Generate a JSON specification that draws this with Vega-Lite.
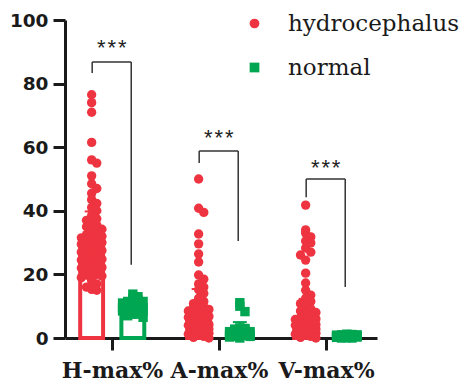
{
  "$schema": "https://vega.github.io/schema/vega-lite/v6.json",
  "width": 312,
  "height": 318,
  "autosize": {"type": "none"},
  "padding": {"left": 65, "top": 20, "right": 89, "bottom": 54},
  "background": "white",
  "config": {
    "view": {"stroke": null},
    "axis": {"grid": false, "title": null}
  },
  "datasets": {
    "summary": [
      {"cat": "H-max%", "group": "hydrocephalus", "mean": 29.8, "sd": 10},
      {"cat": "H-max%", "group": "normal", "mean": 9.3, "sd": 1.8},
      {"cat": "A-max%", "group": "hydrocephalus", "mean": 7.8, "sd": 7.6},
      {"cat": "A-max%", "group": "normal", "mean": 2.5, "sd": 2.5},
      {"cat": "V-max%", "group": "hydrocephalus", "mean": 5.3, "sd": 7},
      {"cat": "V-max%", "group": "normal", "mean": 0.6, "sd": 0.4}
    ],
    "brackets": [
      {"cat": "H-max%", "top": 86.8, "lbot": 83.3, "rbot": 23, "stars": 92.5},
      {"cat": "A-max%", "top": 58.8, "lbot": 55, "rbot": 30.5, "stars": 64.3},
      {"cat": "V-max%", "top": 50, "lbot": 44.3, "rbot": 16, "stars": 54.8}
    ],
    "points": [
      {"cat": "H-max%", "group": "hydrocephalus", "v": 76.5},
      {"cat": "H-max%", "group": "hydrocephalus", "v": 74},
      {"cat": "H-max%", "group": "hydrocephalus", "v": 71},
      {"cat": "H-max%", "group": "hydrocephalus", "v": 61.5},
      {"cat": "H-max%", "group": "hydrocephalus", "v": 56},
      {"cat": "H-max%", "group": "hydrocephalus", "v": 55},
      {"cat": "H-max%", "group": "hydrocephalus", "v": 51},
      {"cat": "H-max%", "group": "hydrocephalus", "v": 48.5},
      {"cat": "H-max%", "group": "hydrocephalus", "v": 47},
      {"cat": "H-max%", "group": "hydrocephalus", "v": 45.5},
      {"cat": "H-max%", "group": "hydrocephalus", "v": 43.5},
      {"cat": "H-max%", "group": "hydrocephalus", "v": 42.3},
      {"cat": "H-max%", "group": "hydrocephalus", "v": 41},
      {"cat": "H-max%", "group": "hydrocephalus", "v": 40},
      {"cat": "H-max%", "group": "hydrocephalus", "v": 38.5},
      {"cat": "H-max%", "group": "hydrocephalus", "v": 37.5},
      {"cat": "H-max%", "group": "hydrocephalus", "v": 37},
      {"cat": "H-max%", "group": "hydrocephalus", "v": 36},
      {"cat": "H-max%", "group": "hydrocephalus", "v": 35.5},
      {"cat": "H-max%", "group": "hydrocephalus", "v": 35},
      {"cat": "H-max%", "group": "hydrocephalus", "v": 34.2},
      {"cat": "H-max%", "group": "hydrocephalus", "v": 33.5},
      {"cat": "H-max%", "group": "hydrocephalus", "v": 33},
      {"cat": "H-max%", "group": "hydrocephalus", "v": 32.5},
      {"cat": "H-max%", "group": "hydrocephalus", "v": 32},
      {"cat": "H-max%", "group": "hydrocephalus", "v": 31.5},
      {"cat": "H-max%", "group": "hydrocephalus", "v": 31},
      {"cat": "H-max%", "group": "hydrocephalus", "v": 30.8},
      {"cat": "H-max%", "group": "hydrocephalus", "v": 30.5},
      {"cat": "H-max%", "group": "hydrocephalus", "v": 30},
      {"cat": "H-max%", "group": "hydrocephalus", "v": 29.5},
      {"cat": "H-max%", "group": "hydrocephalus", "v": 29},
      {"cat": "H-max%", "group": "hydrocephalus", "v": 28.8},
      {"cat": "H-max%", "group": "hydrocephalus", "v": 28.4},
      {"cat": "H-max%", "group": "hydrocephalus", "v": 28},
      {"cat": "H-max%", "group": "hydrocephalus", "v": 27.8},
      {"cat": "H-max%", "group": "hydrocephalus", "v": 27.5},
      {"cat": "H-max%", "group": "hydrocephalus", "v": 27},
      {"cat": "H-max%", "group": "hydrocephalus", "v": 26.8},
      {"cat": "H-max%", "group": "hydrocephalus", "v": 26.5},
      {"cat": "H-max%", "group": "hydrocephalus", "v": 26.2},
      {"cat": "H-max%", "group": "hydrocephalus", "v": 25.8},
      {"cat": "H-max%", "group": "hydrocephalus", "v": 25.5},
      {"cat": "H-max%", "group": "hydrocephalus", "v": 25},
      {"cat": "H-max%", "group": "hydrocephalus", "v": 24.8},
      {"cat": "H-max%", "group": "hydrocephalus", "v": 24.5},
      {"cat": "H-max%", "group": "hydrocephalus", "v": 24},
      {"cat": "H-max%", "group": "hydrocephalus", "v": 23.8},
      {"cat": "H-max%", "group": "hydrocephalus", "v": 23.5},
      {"cat": "H-max%", "group": "hydrocephalus", "v": 23.2},
      {"cat": "H-max%", "group": "hydrocephalus", "v": 23},
      {"cat": "H-max%", "group": "hydrocephalus", "v": 22.5},
      {"cat": "H-max%", "group": "hydrocephalus", "v": 22.2},
      {"cat": "H-max%", "group": "hydrocephalus", "v": 22},
      {"cat": "H-max%", "group": "hydrocephalus", "v": 21.5},
      {"cat": "H-max%", "group": "hydrocephalus", "v": 21.2},
      {"cat": "H-max%", "group": "hydrocephalus", "v": 21},
      {"cat": "H-max%", "group": "hydrocephalus", "v": 20.5},
      {"cat": "H-max%", "group": "hydrocephalus", "v": 20},
      {"cat": "H-max%", "group": "hydrocephalus", "v": 19.8},
      {"cat": "H-max%", "group": "hydrocephalus", "v": 19.5},
      {"cat": "H-max%", "group": "hydrocephalus", "v": 19},
      {"cat": "H-max%", "group": "hydrocephalus", "v": 18.5},
      {"cat": "H-max%", "group": "hydrocephalus", "v": 18},
      {"cat": "H-max%", "group": "hydrocephalus", "v": 17},
      {"cat": "H-max%", "group": "hydrocephalus", "v": 16},
      {"cat": "H-max%", "group": "hydrocephalus", "v": 15.3},
      {"cat": "H-max%", "group": "hydrocephalus", "v": 15},
      {"cat": "A-max%", "group": "hydrocephalus", "v": 50},
      {"cat": "A-max%", "group": "hydrocephalus", "v": 40.8},
      {"cat": "A-max%", "group": "hydrocephalus", "v": 39.5},
      {"cat": "A-max%", "group": "hydrocephalus", "v": 32.7},
      {"cat": "A-max%", "group": "hydrocephalus", "v": 29.6},
      {"cat": "A-max%", "group": "hydrocephalus", "v": 26.4},
      {"cat": "A-max%", "group": "hydrocephalus", "v": 23.9},
      {"cat": "A-max%", "group": "hydrocephalus", "v": 19.8},
      {"cat": "A-max%", "group": "hydrocephalus", "v": 18.5},
      {"cat": "A-max%", "group": "hydrocephalus", "v": 17},
      {"cat": "A-max%", "group": "hydrocephalus", "v": 16},
      {"cat": "A-max%", "group": "hydrocephalus", "v": 15.2},
      {"cat": "A-max%", "group": "hydrocephalus", "v": 14},
      {"cat": "A-max%", "group": "hydrocephalus", "v": 12.5},
      {"cat": "A-max%", "group": "hydrocephalus", "v": 11.5},
      {"cat": "A-max%", "group": "hydrocephalus", "v": 10.8},
      {"cat": "A-max%", "group": "hydrocephalus", "v": 10.2},
      {"cat": "A-max%", "group": "hydrocephalus", "v": 9.8},
      {"cat": "A-max%", "group": "hydrocephalus", "v": 9.5},
      {"cat": "A-max%", "group": "hydrocephalus", "v": 9},
      {"cat": "A-max%", "group": "hydrocephalus", "v": 8.5},
      {"cat": "A-max%", "group": "hydrocephalus", "v": 8.2},
      {"cat": "A-max%", "group": "hydrocephalus", "v": 8},
      {"cat": "A-max%", "group": "hydrocephalus", "v": 7.5},
      {"cat": "A-max%", "group": "hydrocephalus", "v": 7.2},
      {"cat": "A-max%", "group": "hydrocephalus", "v": 7},
      {"cat": "A-max%", "group": "hydrocephalus", "v": 6.8},
      {"cat": "A-max%", "group": "hydrocephalus", "v": 6.5},
      {"cat": "A-max%", "group": "hydrocephalus", "v": 6},
      {"cat": "A-max%", "group": "hydrocephalus", "v": 5.8},
      {"cat": "A-max%", "group": "hydrocephalus", "v": 5.5},
      {"cat": "A-max%", "group": "hydrocephalus", "v": 5},
      {"cat": "A-max%", "group": "hydrocephalus", "v": 4.8},
      {"cat": "A-max%", "group": "hydrocephalus", "v": 4.5},
      {"cat": "A-max%", "group": "hydrocephalus", "v": 4.2},
      {"cat": "A-max%", "group": "hydrocephalus", "v": 4},
      {"cat": "A-max%", "group": "hydrocephalus", "v": 3.5},
      {"cat": "A-max%", "group": "hydrocephalus", "v": 3.2},
      {"cat": "A-max%", "group": "hydrocephalus", "v": 3},
      {"cat": "A-max%", "group": "hydrocephalus", "v": 2.8},
      {"cat": "A-max%", "group": "hydrocephalus", "v": 2.5},
      {"cat": "A-max%", "group": "hydrocephalus", "v": 2.2},
      {"cat": "A-max%", "group": "hydrocephalus", "v": 2},
      {"cat": "A-max%", "group": "hydrocephalus", "v": 1.5},
      {"cat": "A-max%", "group": "hydrocephalus", "v": 1.2},
      {"cat": "A-max%", "group": "hydrocephalus", "v": 1},
      {"cat": "A-max%", "group": "hydrocephalus", "v": 0.5},
      {"cat": "A-max%", "group": "hydrocephalus", "v": 0.2},
      {"cat": "A-max%", "group": "hydrocephalus", "v": 0},
      {"cat": "V-max%", "group": "hydrocephalus", "v": 41.8},
      {"cat": "V-max%", "group": "hydrocephalus", "v": 34},
      {"cat": "V-max%", "group": "hydrocephalus", "v": 33},
      {"cat": "V-max%", "group": "hydrocephalus", "v": 31.8},
      {"cat": "V-max%", "group": "hydrocephalus", "v": 30.5},
      {"cat": "V-max%", "group": "hydrocephalus", "v": 29.9},
      {"cat": "V-max%", "group": "hydrocephalus", "v": 28.3},
      {"cat": "V-max%", "group": "hydrocephalus", "v": 27},
      {"cat": "V-max%", "group": "hydrocephalus", "v": 26.1},
      {"cat": "V-max%", "group": "hydrocephalus", "v": 24.5},
      {"cat": "V-max%", "group": "hydrocephalus", "v": 20.4},
      {"cat": "V-max%", "group": "hydrocephalus", "v": 17.3},
      {"cat": "V-max%", "group": "hydrocephalus", "v": 15},
      {"cat": "V-max%", "group": "hydrocephalus", "v": 13.5},
      {"cat": "V-max%", "group": "hydrocephalus", "v": 12.5},
      {"cat": "V-max%", "group": "hydrocephalus", "v": 11.5},
      {"cat": "V-max%", "group": "hydrocephalus", "v": 10.8},
      {"cat": "V-max%", "group": "hydrocephalus", "v": 10},
      {"cat": "V-max%", "group": "hydrocephalus", "v": 9.2},
      {"cat": "V-max%", "group": "hydrocephalus", "v": 8.5},
      {"cat": "V-max%", "group": "hydrocephalus", "v": 8},
      {"cat": "V-max%", "group": "hydrocephalus", "v": 7.5},
      {"cat": "V-max%", "group": "hydrocephalus", "v": 7},
      {"cat": "V-max%", "group": "hydrocephalus", "v": 6.5},
      {"cat": "V-max%", "group": "hydrocephalus", "v": 6},
      {"cat": "V-max%", "group": "hydrocephalus", "v": 5.8},
      {"cat": "V-max%", "group": "hydrocephalus", "v": 5.5},
      {"cat": "V-max%", "group": "hydrocephalus", "v": 5},
      {"cat": "V-max%", "group": "hydrocephalus", "v": 4.8},
      {"cat": "V-max%", "group": "hydrocephalus", "v": 4.5},
      {"cat": "V-max%", "group": "hydrocephalus", "v": 4.2},
      {"cat": "V-max%", "group": "hydrocephalus", "v": 4},
      {"cat": "V-max%", "group": "hydrocephalus", "v": 3.5},
      {"cat": "V-max%", "group": "hydrocephalus", "v": 3.2},
      {"cat": "V-max%", "group": "hydrocephalus", "v": 3},
      {"cat": "V-max%", "group": "hydrocephalus", "v": 2.8},
      {"cat": "V-max%", "group": "hydrocephalus", "v": 2.5},
      {"cat": "V-max%", "group": "hydrocephalus", "v": 2.2},
      {"cat": "V-max%", "group": "hydrocephalus", "v": 2},
      {"cat": "V-max%", "group": "hydrocephalus", "v": 1.5},
      {"cat": "V-max%", "group": "hydrocephalus", "v": 1.2},
      {"cat": "V-max%", "group": "hydrocephalus", "v": 1},
      {"cat": "V-max%", "group": "hydrocephalus", "v": 0.5},
      {"cat": "V-max%", "group": "hydrocephalus", "v": 0.2},
      {"cat": "V-max%", "group": "hydrocephalus", "v": 0},
      {"cat": "H-max%", "group": "normal", "v": 13.8},
      {"cat": "H-max%", "group": "normal", "v": 13},
      {"cat": "H-max%", "group": "normal", "v": 12.5},
      {"cat": "H-max%", "group": "normal", "v": 12},
      {"cat": "H-max%", "group": "normal", "v": 11.5},
      {"cat": "H-max%", "group": "normal", "v": 11.5},
      {"cat": "H-max%", "group": "normal", "v": 11},
      {"cat": "H-max%", "group": "normal", "v": 11},
      {"cat": "H-max%", "group": "normal", "v": 10.5},
      {"cat": "H-max%", "group": "normal", "v": 10.5},
      {"cat": "H-max%", "group": "normal", "v": 10},
      {"cat": "H-max%", "group": "normal", "v": 10},
      {"cat": "H-max%", "group": "normal", "v": 10},
      {"cat": "H-max%", "group": "normal", "v": 9.5},
      {"cat": "H-max%", "group": "normal", "v": 9.5},
      {"cat": "H-max%", "group": "normal", "v": 9},
      {"cat": "H-max%", "group": "normal", "v": 9},
      {"cat": "H-max%", "group": "normal", "v": 9},
      {"cat": "H-max%", "group": "normal", "v": 8.5},
      {"cat": "H-max%", "group": "normal", "v": 8.5},
      {"cat": "H-max%", "group": "normal", "v": 8},
      {"cat": "H-max%", "group": "normal", "v": 8},
      {"cat": "H-max%", "group": "normal", "v": 7.5},
      {"cat": "H-max%", "group": "normal", "v": 7.5},
      {"cat": "H-max%", "group": "normal", "v": 7},
      {"cat": "H-max%", "group": "normal", "v": 6.5},
      {"cat": "A-max%", "group": "normal", "v": 11.1},
      {"cat": "A-max%", "group": "normal", "v": 10},
      {"cat": "A-max%", "group": "normal", "v": 8.3},
      {"cat": "A-max%", "group": "normal", "v": 3.2},
      {"cat": "A-max%", "group": "normal", "v": 3},
      {"cat": "A-max%", "group": "normal", "v": 2.8},
      {"cat": "A-max%", "group": "normal", "v": 2.5},
      {"cat": "A-max%", "group": "normal", "v": 2.5},
      {"cat": "A-max%", "group": "normal", "v": 2.2},
      {"cat": "A-max%", "group": "normal", "v": 2},
      {"cat": "A-max%", "group": "normal", "v": 2},
      {"cat": "A-max%", "group": "normal", "v": 1.8},
      {"cat": "A-max%", "group": "normal", "v": 1.5},
      {"cat": "A-max%", "group": "normal", "v": 1.5},
      {"cat": "A-max%", "group": "normal", "v": 1.2},
      {"cat": "A-max%", "group": "normal", "v": 1},
      {"cat": "A-max%", "group": "normal", "v": 1},
      {"cat": "A-max%", "group": "normal", "v": 0.8},
      {"cat": "A-max%", "group": "normal", "v": 0.5},
      {"cat": "A-max%", "group": "normal", "v": 0.5},
      {"cat": "A-max%", "group": "normal", "v": 0.3},
      {"cat": "A-max%", "group": "normal", "v": 0},
      {"cat": "V-max%", "group": "normal", "v": 1.2},
      {"cat": "V-max%", "group": "normal", "v": 1.1},
      {"cat": "V-max%", "group": "normal", "v": 1},
      {"cat": "V-max%", "group": "normal", "v": 1},
      {"cat": "V-max%", "group": "normal", "v": 0.9},
      {"cat": "V-max%", "group": "normal", "v": 0.8},
      {"cat": "V-max%", "group": "normal", "v": 0.8},
      {"cat": "V-max%", "group": "normal", "v": 0.7},
      {"cat": "V-max%", "group": "normal", "v": 0.6},
      {"cat": "V-max%", "group": "normal", "v": 0.5},
      {"cat": "V-max%", "group": "normal", "v": 0.5},
      {"cat": "V-max%", "group": "normal", "v": 0.4},
      {"cat": "V-max%", "group": "normal", "v": 0.3},
      {"cat": "V-max%", "group": "normal", "v": 0.3},
      {"cat": "V-max%", "group": "normal", "v": 0.2},
      {"cat": "V-max%", "group": "normal", "v": 0.1},
      {"cat": "V-max%", "group": "normal", "v": 0},
      {"cat": "V-max%", "group": "normal", "v": 0}
    ]
  },
  "encoding": {
    "x": {
      "field": "xp",
      "type": "quantitative",
      "scale": {"domain": [0.561, 3.477], "nice": false, "zero": false},
      "axis": {
        "values": [1, 2, 3],
        "labelExpr": "['H-max%','A-max%','V-max%'][datum.value - 1]",
        "domainColor": "#1a1a1a",
        "domainWidth": 3,
        "tickColor": "#1a1a1a",
        "tickWidth": 3,
        "tickSize": 12,
        "labelFont": "DejaVu Serif",
        "labelFontWeight": "bold",
        "labelFontSize": 22,
        "labelColor": "#1a1a1a",
        "labelPadding": 10,
        "labelFlush": false,
        "labelOverlap": false,
        "title": null
      }
    },
    "y": {
      "field": "yv",
      "type": "quantitative",
      "scale": {"domain": [0, 100], "nice": false},
      "axis": {
        "values": [0, 20, 40, 60, 80, 100],
        "domainColor": "#1a1a1a",
        "domainWidth": 3,
        "tickColor": "#1a1a1a",
        "tickWidth": 3,
        "tickSize": 12,
        "labelFont": "DejaVu Sans",
        "labelFontWeight": "bold",
        "labelFontSize": 18.5,
        "labelColor": "#1a1a1a",
        "labelPadding": 5,
        "title": null
      }
    }
  },
  "layer": [
    {
      "data": {"name": "summary"},
      "transform": [
        {"calculate": "indexof(['H-max%','A-max%','V-max%'], datum.cat) + 1 + (datum.group === 'hydrocephalus' ? -0.19 : 0.195)", "as": "base"},
        {"calculate": "datum.base - 0.107", "as": "xp"},
        {"calculate": "datum.base + 0.107", "as": "xr"},
        {"calculate": "datum.mean", "as": "yv"},
        {"calculate": "datum.group === 'hydrocephalus' ? '#EE3440' : '#00A651'", "as": "col"}
      ],
      "mark": {"type": "rect", "fill": "white", "strokeWidth": 4},
      "encoding": {
        "x2": {"field": "xr"},
        "y2": {"datum": 0},
        "stroke": {"field": "col", "type": "nominal", "scale": null}
      }
    },
    {
      "data": {"name": "summary"},
      "transform": [
        {"calculate": "indexof(['H-max%','A-max%','V-max%'], datum.cat) + 1 + (datum.group === 'hydrocephalus' ? -0.19 : 0.195)", "as": "xp"},
        {"calculate": "datum.mean", "as": "yv"},
        {"calculate": "datum.mean + datum.sd", "as": "up"},
        {"calculate": "datum.group === 'hydrocephalus' ? '#EE3440' : '#00A651'", "as": "col"}
      ],
      "mark": {"type": "rule", "strokeWidth": 2},
      "encoding": {
        "y2": {"field": "up"},
        "stroke": {"field": "col", "type": "nominal", "scale": null}
      }
    },
    {
      "data": {"name": "summary"},
      "transform": [
        {"calculate": "indexof(['H-max%','A-max%','V-max%'], datum.cat) + 1 + (datum.group === 'hydrocephalus' ? -0.19 : 0.195)", "as": "base"},
        {"calculate": "datum.base - 0.065", "as": "xp"},
        {"calculate": "datum.base + 0.065", "as": "xr"},
        {"calculate": "datum.mean + datum.sd", "as": "yv"},
        {"calculate": "datum.group === 'hydrocephalus' ? '#EE3440' : '#00A651'", "as": "col"}
      ],
      "mark": {"type": "rule", "strokeWidth": 2},
      "encoding": {
        "x2": {"field": "xr"},
        "stroke": {"field": "col", "type": "nominal", "scale": null}
      }
    },
    {
      "data": {"name": "points"},
      "transform": [
        {"calculate": "indexof(['H-max%','A-max%','V-max%'], datum.cat) + 1 + (datum.group === 'hydrocephalus' ? -0.19 : 0.195)", "as": "base"},
        {"calculate": "floor(datum.v / 2.6)", "as": "b"},
        {"window": [{"op": "row_number", "as": "rn"}], "groupby": ["cat", "group", "b"], "sort": [{"field": "v", "order": "descending"}]},
        {"calculate": "(datum.rn - 1) % 5", "as": "k"},
        {"calculate": "datum.base + (datum.k == 0 ? 0 : (datum.k % 2 == 1 ? 1 : -1) * ceil(datum.k / 2)) * 0.048", "as": "xp"},
        {"calculate": "datum.v", "as": "yv"}
      ],
      "mark": {"type": "point", "filled": true, "opacity": 1, "strokeWidth": 0},
      "encoding": {
        "color": {
          "field": "group", "type": "nominal",
          "scale": {"domain": ["hydrocephalus", "normal"], "range": ["#EE3440", "#00A651"]},
          "legend": {"title": null, "orient": "none", "legendX": 178, "legendY": -8, "labelFont": "DejaVu Serif", "labelFontSize": 23, "labelColor": "#1a1a1a", "labelLimit": 0, "symbolSize": 95, "rowPadding": 20, "labelOffset": 22}
        },
        "shape": {
          "field": "group", "type": "nominal",
          "scale": {"domain": ["hydrocephalus", "normal"], "range": ["circle", "square"]},
          "legend": {"title": null, "orient": "none", "legendX": 178, "legendY": -8, "labelFont": "DejaVu Serif", "labelFontSize": 23, "labelColor": "#1a1a1a", "labelLimit": 0, "symbolSize": 95, "rowPadding": 20, "labelOffset": 22}
        },
        "size": {"value": 88}
      }
    },
    {
      "data": {"name": "brackets"},
      "transform": [
        {"calculate": "indexof(['H-max%','A-max%','V-max%'], datum.cat) + 1", "as": "c"},
        {"calculate": "datum.c - 0.185", "as": "xp"},
        {"calculate": "datum.c + 0.18", "as": "xr"},
        {"calculate": "datum.top", "as": "yv"}
      ],
      "mark": {"type": "rule", "strokeWidth": 1.5, "color": "#333333"},
      "encoding": {"x2": {"field": "xr"}}
    },
    {
      "data": {"name": "brackets"},
      "transform": [
        {"calculate": "indexof(['H-max%','A-max%','V-max%'], datum.cat) + 1 - 0.185", "as": "xp"},
        {"calculate": "datum.top", "as": "yv"}
      ],
      "mark": {"type": "rule", "strokeWidth": 1.5, "color": "#333333"},
      "encoding": {"y2": {"field": "lbot"}}
    },
    {
      "data": {"name": "brackets"},
      "transform": [
        {"calculate": "indexof(['H-max%','A-max%','V-max%'], datum.cat) + 1 + 0.18", "as": "xp"},
        {"calculate": "datum.top", "as": "yv"}
      ],
      "mark": {"type": "rule", "strokeWidth": 1.5, "color": "#333333"},
      "encoding": {"y2": {"field": "rbot"}}
    },
    {
      "data": {"name": "brackets"},
      "transform": [
        {"calculate": "indexof(['H-max%','A-max%','V-max%'], datum.cat) + 1 - 0.002", "as": "xp"},
        {"calculate": "datum.stars", "as": "yv"}
      ],
      "mark": {"type": "text", "text": "*\u200a*\u200a*", "font": "Liberation Sans", "fontSize": 22, "color": "#222222", "baseline": "middle", "align": "center", "dy": 4}
    }
  ]
}
